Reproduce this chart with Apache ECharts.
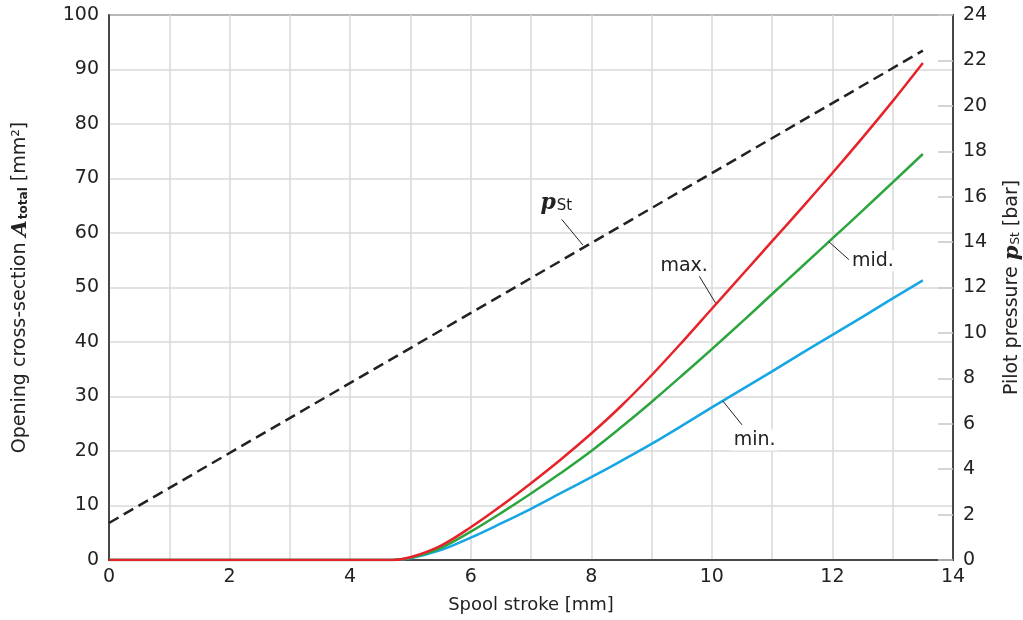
<!DOCTYPE html>
<html>
<head>
<meta charset="utf-8">
<script src="https://cdn.jsdelivr.net/npm/echarts@6/dist/echarts.min.js"></script>
<style>
  html, body { margin: 0; padding: 0; background: #fff; }
  #chart { width: 1023px; height: 620px; }
</style>
</head>
<body>
<div id="chart"></div>
<script>
// spool stroke [mm]
var stroke = [0, 4.7, 5, 5.5, 6, 6.5, 7, 7.5, 8, 8.5, 9, 9.5, 10, 10.5, 11, 11.5, 12, 12.5, 13, 13.5];
// opening cross-section [mm2]
var areaMax = [0, 0, 0.5, 2.6, 6.0, 9.9, 14.1, 18.5, 23.2, 28.3, 33.9, 39.9, 46.1, 52.3, 58.5, 64.7, 71.0, 77.5, 84.2, 91.2];
var areaMid = [0, 0, 0.4, 2.2, 5.2, 8.6, 12.2, 16.0, 20.0, 24.4, 29.0, 33.8, 38.7, 43.7, 48.8, 53.9, 59.0, 64.1, 69.3, 74.5];
var areaMin = [0, 0, 0.3, 1.8, 4.1, 6.7, 9.4, 12.3, 15.2, 18.2, 21.3, 24.6, 28.0, 31.3, 34.6, 38.0, 41.3, 44.6, 48.0, 51.3];
// pilot pressure [bar]
var pressStroke = [0, 13.5];
var pressure = [1.63, 22.43];

var xTicks = [0, 2, 4, 6, 8, 10, 12, 14];
var leftTicks = [0, 10, 20, 30, 40, 50, 60, 70, 80, 90, 100];
var rightTicks = [0, 2, 4, 6, 8, 10, 12, 14, 16, 18, 20, 22, 24];

// curve labels: text, leader start on the curve, leader end, text anchor
var notes = [
  { name: 'max.', from: [10.07, 47.0], to: [9.79, 52.1], at: [9.54, 54.0] },
  { name: 'mid.', from: [11.94, 58.4], to: [12.28, 55.05], at: [12.67, 54.9] },
  { name: 'min.', from: [10.18, 29.2], to: [10.5, 24.8], at: [10.71, 22.0] }
];
var pNote = { from: [7.86, 13.87], to: [7.51, 15.0], at: [7.42, 15.7] };

function pairs(xs, ys) {
  return xs.map(function (x, i) { return [x, ys[i]]; });
}

var font = 'DejaVu Sans';
var colors = ['#e52329', '#2ca53f', '#16a6e4'];
var series = [];
[areaMin, areaMid, areaMax].forEach(function (ys, k) {
  var note = notes[2 - k];
  series.push({
    type: 'line',
    yAxisIndex: 0,
    data: pairs(stroke, ys),
    smooth: 0.35,
    showSymbol: false,
    lineStyle: { color: colors[2 - k], width: 2.5 },
    z: 3 + k,
    markLine: {
      silent: true,
      symbol: 'none',
      label: { show: false },
      lineStyle: { color: '#222', width: 1, type: 'solid' },
      data: [[{ coord: note.from }, { coord: note.to }]]
    },
    markPoint: {
      silent: true,
      symbol: 'rect',
      symbolSize: 0,
      data: [{ coord: note.at, value: note.name }],
      label: {
        show: true,
        position: 'inside',
        formatter: note.name,
        color: '#222',
        fontFamily: font,
        fontSize: 19,
        backgroundColor: '#fff',
        padding: [1, 3]
      }
    }
  });
});

series.push({
  type: 'line',
  yAxisIndex: 1,
  data: pairs(pressStroke, pressure),
  showSymbol: false,
  lineStyle: { color: '#222', width: 2.5, type: [11, 6] },
  z: 6,
  markLine: {
    silent: true,
    symbol: 'none',
    label: { show: false },
    lineStyle: { color: '#222', width: 1, type: 'solid' },
    data: [[{ coord: pNote.from }, { coord: pNote.to }]]
  },
  markPoint: {
    silent: true,
    symbol: 'rect',
    symbolSize: 0,
    data: [{ coord: pNote.at, value: 'p' }],
    label: {
      show: true,
      position: 'inside',
      formatter: '{p|p}{s|St}',
      rich: {
        p: { fontFamily: 'DejaVu Serif', fontStyle: 'italic', fontWeight: 'bold', fontSize: 22, color: '#222' },
        s: { fontFamily: font, fontSize: 15, color: '#222', padding: [6, 0, 0, 1] }
      }
    }
  }
});

var chart = echarts.init(document.getElementById('chart'), null, { renderer: 'canvas' });
chart.setOption({
  backgroundColor: '#fff',
  animation: false,
  grid: {
    left: 109, right: 70, top: 15, bottom: 60,
    outerBoundsMode: 'none', containLabel: false,
    show: true, borderColor: '#222', borderWidth: 1.5
  },
  xAxis: {
    type: 'value',
    min: xTicks[0],
    max: xTicks[xTicks.length - 1],
    interval: 2,
    name: 'Spool stroke [mm]',
    nameLocation: 'middle',
    nameGap: 36,
    nameTextStyle: { fontFamily: font, fontSize: 18, color: '#222' },
    axisLine: { lineStyle: { color: '#222', width: 1.5 } },
    axisTick: { show: false },
    axisLabel: { fontFamily: font, fontSize: 19, color: '#222', margin: 8 },
    splitLine: { show: true, lineStyle: { color: '#d9d9d9', width: 1.5 } },
    minorTick: { show: false, splitNumber: 2 },
    minorSplitLine: { show: true, lineStyle: { color: '#d9d9d9', width: 1.5 } }
  },
  yAxis: [{
    type: 'value',
    min: leftTicks[0],
    max: leftTicks[leftTicks.length - 1],
    interval: 10,
    name: '{t|Opening cross-section }{a|A}{s|total}{t| [mm²]}',
    nameLocation: 'middle',
    nameGap: 78,
    nameTextStyle: {
      color: '#222',
      rich: {
        t: { fontFamily: font, fontSize: 19, color: '#222' },
        a: { fontFamily: 'DejaVu Serif', fontStyle: 'italic', fontWeight: 'bold', fontSize: 21, color: '#222' },
        s: { fontFamily: font, fontWeight: 'bold', fontSize: 12, color: '#222', padding: [6, 0, 0, 1] }
      }
    },
    axisLine: { show: true, lineStyle: { color: '#222', width: 1.5 } },
    axisTick: { show: false },
    axisLabel: { fontFamily: font, fontSize: 19, color: '#222', margin: 10 },
    splitLine: { show: true, lineStyle: { color: '#d9d9d9', width: 1.5 } }
  }, {
    type: 'value',
    position: 'right',
    min: rightTicks[0],
    max: rightTicks[rightTicks.length - 1],
    interval: 2,
    name: '{t|Pilot pressure }{p|p}{s|St}{t| [bar]}',
    nameLocation: 'middle',
    nameGap: 49,
    nameRotate: 90,
    nameTextStyle: {
      color: '#222',
      rich: {
        t: { fontFamily: font, fontSize: 19, color: '#222' },
        p: { fontFamily: 'DejaVu Serif', fontStyle: 'italic', fontWeight: 'bold', fontSize: 21, color: '#222' },
        s: { fontFamily: font, fontSize: 12, color: '#222', padding: [6, 0, 0, 1] }
      }
    },
    axisLine: { show: true, lineStyle: { color: '#222', width: 1.5 } },
    axisTick: { show: true, inside: true, length: 15, lineStyle: { color: '#c8c8c8', width: 1.5 } },
    axisLabel: { fontFamily: font, fontSize: 19, color: '#222', margin: 10 },
    splitLine: { show: false }
  }],
  series: series
});
</script>
</body>
</html>
